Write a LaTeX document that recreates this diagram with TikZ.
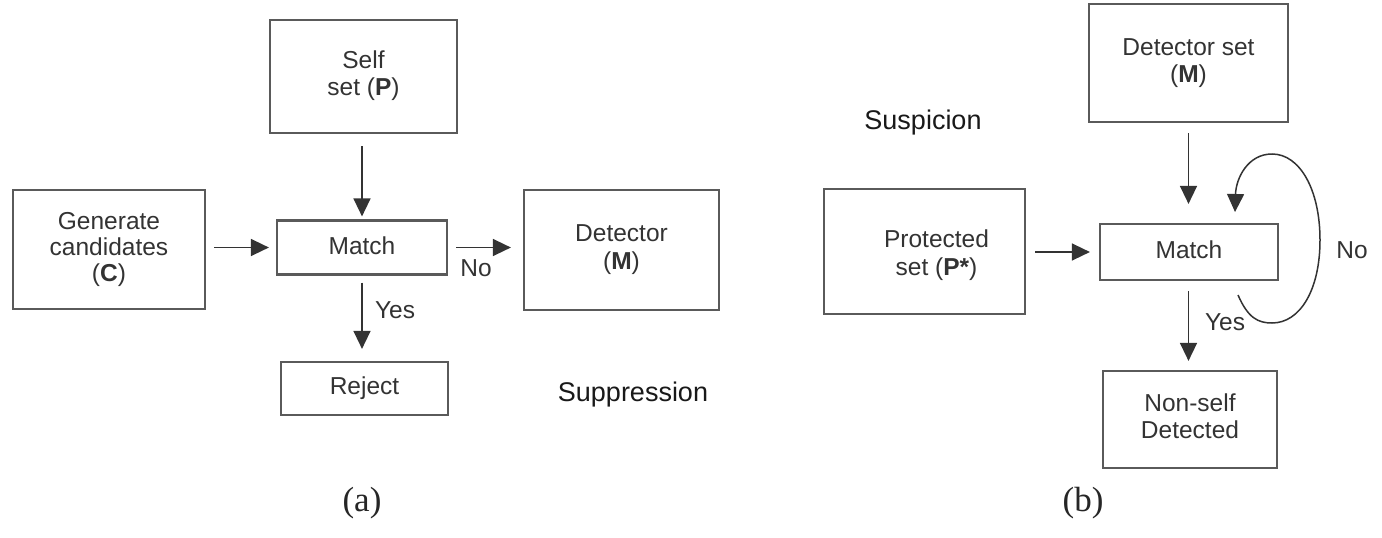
\documentclass[tikz,border=0pt]{standalone}
\usepackage{fontspec}
\setmainfont{Liberation Sans}
\newfontfamily\capfont{Liberation Serif}
\usetikzlibrary{arrows.meta}
\definecolor{boxline}{HTML}{5A5A5A}
\definecolor{txt}{HTML}{333333}
\begin{document}
\begin{tikzpicture}[x=1pt,y=-1pt,
  blk/.style={draw=boxline,line width=2.2pt,rectangle,inner sep=0pt,align=center,
    text=txt,font=\fontsize{24.5}{28}\selectfont},
  conn/.style={draw=black!80,line width=1.5pt,-{Triangle[length=18pt,width=17pt]}},
  lbl/.style={text=txt,font=\fontsize{24.5}{28}\selectfont},
  big/.style={text=black!90,font=\fontsize{27}{32}\selectfont},
  subcap/.style={text=black!85,font=\capfont\fontsize{35}{40}\selectfont}]
\useasboundingbox (0,0) rectangle (1382,538);
\fill[white] (0,0) rectangle (1382,538);
% ---- (a)
\node[blk,minimum width=187pt,minimum height=113pt] (self) at (363.5,76.5)
  {\raisebox{5pt}{\begin{tabular}{@{}c@{}}Self\\[-1pt]set (\textbf{P})\end{tabular}}};
\node[blk,minimum width=192pt,minimum height=119pt] (gen) at (109,249.5)
  {Generate\\[-2pt]candidates\\[-2pt](\textbf{C})};
\node[blk,minimum width=170pt,minimum height=54pt] (matcha) at (362,247.5) {\raisebox{4pt}{Match}};
\node[blk,minimum width=195pt,minimum height=120pt] (deta) at (621.5,250)
  {Detector\\(\textbf{M})};
\node[blk,minimum width=167pt,minimum height=53pt] (reject) at (364.5,388.5) {\raisebox{4pt}{Reject}};
\node[big] (supp) at (633,395) {Suppression};
\draw[conn,shorten <=12pt,shorten >=3pt] (self.south -| matcha) -- (matcha.north);
\draw[conn,shorten <=8pt,shorten >=7pt] (gen.east |- matcha.west) -- (matcha.west);
\draw[conn,shorten <=8pt,shorten >=12pt] (matcha.east) -- (matcha.east -| deta.west);
\draw[conn,shorten <=7pt,shorten >=12pt] (matcha.south) -- (reject.north -| matcha.south);
\node[lbl] (noa) at (476,268) {No};
\node[lbl] (yesa) at (395,310) {Yes};
\node[subcap] (capa) at (362,503) {(a)};
% ---- (b)
\node[blk,minimum width=199pt,minimum height=118pt] (detb) at (1188.5,63)
  {\raisebox{3pt}{\begin{tabular}{@{}c@{}}Detector set\\[-1pt](\textbf{M})\end{tabular}}};
\node[big] (susp) at (923,123) {Suspicion};
\node[blk,minimum width=201pt,minimum height=125pt,
  label={[lbl,align=center,xshift=12pt,yshift=-4pt]center:Protected\\set (\textbf{P*})}] (prot) at (924.5,251.5) {};
\node[blk,minimum width=178pt,minimum height=56pt] (matchb) at (1189,252) {\raisebox{4pt}{Match}};
\node[blk,minimum width=174pt,minimum height=97pt] (nons) at (1190,419.5)
  {\raisebox{3pt}{\begin{tabular}{@{}c@{}}Non-self\\[-1pt]Detected\end{tabular}}};
\draw[conn,shorten <=10pt,shorten >=19pt] (detb.south) -- (matchb.north -| detb.south);
\draw[conn,shorten <=9pt,shorten >=9pt] (prot.east |- matchb.west) -- (matchb.west);
\draw[conn,shorten <=10pt,shorten >=9pt] (matchb.south -| detb.south) -- (nons.north -| detb.south);
\coordinate (loopS) at (1238,295);
\coordinate (loopE) at (1235,212);
\draw[conn] (loopS) .. controls (1248,318) and (1258,323) .. (1272,323)
  .. controls (1300,323) and (1320,290) .. (1320,240)
  .. controls (1320,190) and (1300,154) .. (1272,154)
  .. controls (1248,154) and (1236,178) .. (loopE);
\node[lbl] (nob) at (1352,250) {No};
\node[lbl] (yesb) at (1225,322) {Yes};
\node[subcap] (capb) at (1083,503) {(b)};
\end{tikzpicture}
\end{document}
